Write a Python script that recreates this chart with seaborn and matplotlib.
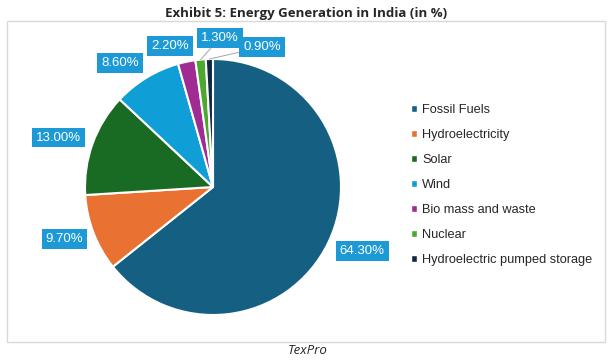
import numpy as np
import matplotlib
matplotlib.use("Agg")
import matplotlib.pyplot as plt
import seaborn as sns
from matplotlib.patches import Rectangle

# data read from the exhibit
sources = ["Fossil Fuels", "Hydroelectricity", "Solar", "Wind",
           "Bio mass and waste", "Nuclear", "Hydroelectric pumped storage"]
shares = [64.3, 9.7, 13.0, 8.6, 2.2, 1.3, 0.9]
colors = ["#156082", "#E97132", "#196B24", "#0F9ED5", "#A02B93", "#4EA72E", "#0E2841"]

# label placement (radius in pie units, angle nudge in degrees)
label_r = [1.27, 1.23, 1.265, 1.21, 1.15, 1.165, 1.16]
label_nudge = [2.5, -1.8, 2, 5.6, 5, -8.3, -21]
leader = [False, False, False, False, False, True, True]

sns.set_theme(style="white")
plt.rcParams["font.family"] = ["Liberation Sans", "DejaVu Sans"]

W, H = 612, 363
fig = plt.figure(figsize=(W / 100, H / 100), dpi=100)
ax = fig.add_axes([0, 0, 1, 1])

# pie centre / radius in pixels
cx, cy, R = 213, 187, 128

# outer frame like the Excel chart area
fig.patches.append(Rectangle((7 / W, 1 - 342 / H), 598 / W, 321 / H,
                             transform=fig.transFigure, fill=False,
                             ec="#d9d9d9", lw=1.0))

wedges, _ = ax.pie(shares, colors=sns.color_palette(colors), startangle=90,
                   counterclock=False, radius=1,
                   wedgeprops=dict(edgecolor="white", linewidth=1.5))
ax.set_xlim(-cx / R, (W - cx) / R)
ax.set_ylim(-(H - cy) / R, cy / R)
ax.set_aspect("auto")
ax.axis("off")

for w, v, r, nd, ld in zip(wedges, shares, label_r, label_nudge, leader):
    mid = np.deg2rad((w.theta1 + w.theta2) / 2)
    lab = mid + np.deg2rad(nd)
    xy = (np.cos(mid), np.sin(mid))
    xt = (r * np.cos(lab), r * np.sin(lab))
    ax.annotate(f"{v:.2f}%", xy=xy, xytext=xt, ha="center", va="center",
                fontsize=9.5, color="white",
                bbox=dict(boxstyle="square,pad=0.3", fc="#1D9AD6", ec="none"),
                arrowprops=dict(arrowstyle="-", color="#a6a6a6", lw=0.7,
                                shrinkA=0, shrinkB=0) if ld else None)

handles = [plt.Rectangle((0, 0), 1, 1, fc=c) for c in colors]
fig.legend(handles, sources, loc="upper left", bbox_to_anchor=(406 / W, 1 - 99 / H),
           frameon=False, fontsize=9.2, handlelength=0.45, handleheight=0.45,
           handletextpad=0.4, labelspacing=1.02, borderaxespad=0)

fig.text(0.5, 1 - 13.5 / H, "Exhibit 5: Energy Generation in India (in %)",
         ha="center", va="center", fontsize=9.5, fontweight="bold",
         family=["Open Sans", "DejaVu Sans"])
fig.text(308 / W, 1 - 351 / H, "TexPro", ha="center", va="center",
         fontsize=9.5, style="italic", family=["Open Sans", "DejaVu Sans"])

fig.savefig("out.png", dpi=100)
